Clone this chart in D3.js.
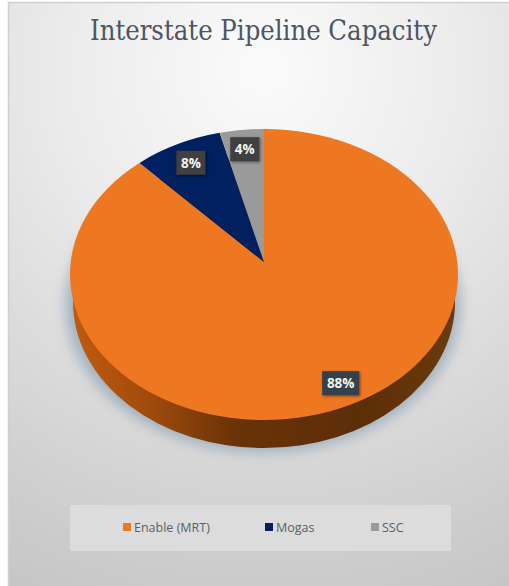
<!DOCTYPE html>
<html>
<head>
<meta charset="utf-8">
<script src="https://cdn.jsdelivr.net/npm/d3@7/dist/d3.min.js"></script>
<style>
  html, body { margin: 0; padding: 0; background: #fff; }
  svg { display: block; }
</style>
</head>
<body>
<div id="chart"></div>
<script>
// Share of interstate pipeline capacity
const categories = ["Enable (MRT)", "Mogas", "SSC"];
const shares = [88, 8, 4];
const sliceColors = ["#ee7722", "#00205f", "#9a9a9a"];
const labelNudgeX = [17.5, -4.5, -1.5];
const labelNudgeY = [9.5, -6, -8];
const labelFills = ["#36404a", "#404040", "#404040"];
const legendSwatchX = [123, 265, 371];

const width = 509, height = 586;
const svg = d3.select("#chart").append("svg").attr("width", width).attr("height", height);
const defs = svg.append("defs");

// Backdrop: bright near the title, falling to grey at the bottom corners
const bg = defs.append("radialGradient").attr("id", "backdrop")
  .attr("gradientUnits", "userSpaceOnUse")
  .attr("cx", 264).attr("cy", 70).attr("r", 590);
bg.append("stop").attr("offset", "0").attr("stop-color", "#fbfbfb");
bg.append("stop").attr("offset", "0.35").attr("stop-color", "#ebebeb");
bg.append("stop").attr("offset", "0.75").attr("stop-color", "#d2d2d2");
bg.append("stop").attr("offset", "1").attr("stop-color", "#c4c4c4");

const wall = defs.append("linearGradient").attr("id", "wall")
  .attr("gradientUnits", "userSpaceOnUse")
  .attr("x1", 73).attr("x2", 455).attr("y1", 0).attr("y2", 0);
wall.append("stop").attr("offset", "0").attr("stop-color", "#c05a0f");
wall.append("stop").attr("offset", "0.2").attr("stop-color", "#a04b0c");
wall.append("stop").attr("offset", "0.42").attr("stop-color", "#6a3308");
wall.append("stop").attr("offset", "0.75").attr("stop-color", "#5c2e08");
wall.append("stop").attr("offset", "1").attr("stop-color", "#6b3a0c");

defs.append("filter").attr("id", "pieShadow")
  .attr("x", "-15%").attr("y", "-15%").attr("width", "130%").attr("height", "130%")
  .append("feGaussianBlur").attr("stdDeviation", 7);
defs.append("filter").attr("id", "boxShadow")
  .attr("x", "-30%").attr("y", "-30%").attr("width", "160%").attr("height", "160%")
  .append("feGaussianBlur").attr("stdDeviation", 1.5);

svg.append("rect").attr("width", width).attr("height", height).attr("fill", "#fff");
svg.append("rect").attr("x", 8).attr("y", 3).attr("width", width - 8).attr("height", height - 3)
  .attr("fill", "url(#backdrop)");
svg.append("path").attr("d", `M8.5,${height}V2.5H${width}`)
  .attr("fill", "none").attr("stroke", "#cfcfcf").attr("stroke-width", 1.5);

svg.append("text").attr("x", 263.5).attr("y", 40)
  .attr("text-anchor", "middle")
  .attr("font-family", "'DejaVu Serif', serif")
  .attr("font-size", 28).attr("fill", "#4d5563")
  .attr("textLength", 347).attr("lengthAdjust", "spacingAndGlyphs")
  .text("Interstate Pipeline Capacity");

// Tilted disc: a circle seen in perspective stays an ellipse, but its centre moves up
const disc = { cx: 264, cy: 274.5, rx: 194, ry: 145.5, centreLift: 12.5 };
const persp = -disc.centreLift / disc.ry;
const kx = disc.rx * Math.sqrt(1 - persp * persp);
function project(u, v) {
  const w = 1 + persp * v;
  return [disc.cx + kx * u / w, disc.cy + (disc.ry * v - disc.centreLift) / w];
}
function onDisc(angle, f = 1) {
  return project(f * Math.sin(angle), -f * Math.cos(angle));
}

const pie = d3.pie().value(d => d).sort(null);
const arcs = pie(shares);
const apex = project(0, 0);

const sideCy = 302, sideRx = 191, sideRy = 146;

// Soft shadow cast behind the rim
svg.append("ellipse")
  .attr("cx", disc.cx - 1).attr("cy", sideCy + 3)
  .attr("rx", sideRx + 6).attr("ry", sideRy + 1)
  .attr("fill", "#8fa3b5").attr("opacity", 0.8)
  .attr("filter", "url(#pieShadow)");

// Rim of the disc
svg.append("ellipse")
  .attr("cx", disc.cx).attr("cy", sideCy)
  .attr("rx", sideRx).attr("ry", sideRy)
  .attr("fill", "url(#wall)");

// Top face, one path per slice
svg.append("g").selectAll("path").data(arcs).join("path")
  .attr("fill", (d, i) => sliceColors[i])
  .attr("d", d => {
    const p0 = onDisc(d.startAngle), p1 = onDisc(d.endAngle);
    const large = d.endAngle - d.startAngle > Math.PI ? 1 : 0;
    return `M${apex}L${p0}A${disc.rx},${disc.ry} 0 ${large} 1 ${p1}Z`;
  });

// Value labels on dark boxes
const fmt = d => `${d.data}%`;
const labels = svg.append("g").selectAll("g").data(arcs).join("g")
  .attr("transform", (d, i) => {
    const p = onDisc((d.startAngle + d.endAngle) / 2, 0.78);
    return `translate(${p[0] + labelNudgeX[i]},${p[1] + labelNudgeY[i]})`;
  });
const boxW = d => (d.data >= 10 ? 37 : 29);
labels.append("rect")
  .attr("x", d => -boxW(d) / 2 + 1).attr("y", -11).attr("width", boxW).attr("height", 24)
  .attr("fill", "#000").attr("opacity", 0.45).attr("filter", "url(#boxShadow)");
labels.append("rect")
  .attr("x", d => -boxW(d) / 2).attr("y", -12).attr("width", boxW).attr("height", 24)
  .attr("fill", (d, i) => labelFills[i]);
labels.append("text")
  .attr("text-anchor", "middle").attr("y", 5)
  .attr("font-family", "'Open Sans', sans-serif").attr("font-weight", 700)
  .attr("font-size", 13.5).attr("fill", "#f4f4f4")
  .text(fmt);

// Legend band
svg.append("rect").attr("x", 70).attr("y", 505).attr("width", 381).attr("height", 46)
  .attr("fill", "#dcdcdc");
const legend = svg.append("g").selectAll("g").data(categories).join("g")
  .attr("transform", (d, i) => `translate(${legendSwatchX[i]},523)`);
legend.append("rect").attr("width", 8).attr("height", 8)
  .attr("fill", (d, i) => sliceColors[i]);
legend.append("text").attr("x", 11).attr("y", 9)
  .attr("font-family", "'Open Sans', sans-serif")
  .attr("font-size", 12.5).attr("fill", "#5a5f66")
  .text(d => d);
</script>
</body>
</html>
